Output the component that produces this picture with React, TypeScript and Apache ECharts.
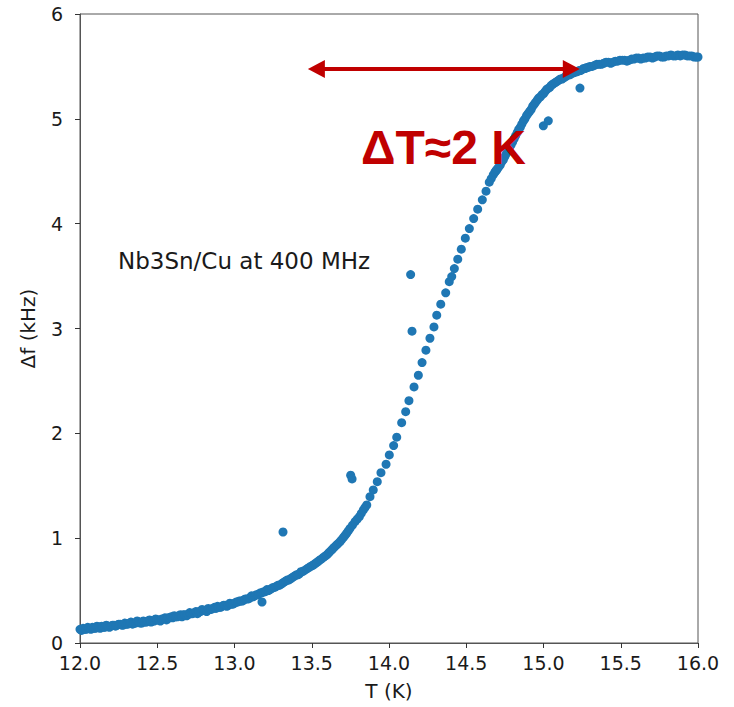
import React, { useEffect, useRef } from "react";
import * as echarts from "echarts";

// Data: [T (K), Δf (kHz)]
const baseRegion: number[][] = [
  [12.0, 0.13], [12.01, 0.12], [12.02, 0.14], [12.03, 0.13], [12.04, 0.13], [12.05, 0.15],
  [12.06, 0.14], [12.07, 0.13], [12.08, 0.15], [12.09, 0.14], [12.1, 0.14], [12.11, 0.16],
  [12.12, 0.15], [12.13, 0.14], [12.14, 0.16], [12.15, 0.15], [12.16, 0.15], [12.17, 0.17],
  [12.18, 0.16], [12.19, 0.15], [12.2, 0.16], [12.21, 0.17], [12.22, 0.17], [12.23, 0.16],
  [12.24, 0.17], [12.25, 0.18], [12.26, 0.18], [12.27, 0.17], [12.28, 0.17], [12.29, 0.19],
  [12.3, 0.18], [12.31, 0.18], [12.32, 0.19], [12.33, 0.2], [12.34, 0.18], [12.35, 0.19],
  [12.36, 0.19], [12.37, 0.21], [12.38, 0.2], [12.39, 0.19], [12.4, 0.19], [12.41, 0.21],
  [12.42, 0.2], [12.43, 0.2], [12.44, 0.21], [12.45, 0.22], [12.46, 0.2], [12.47, 0.21],
  [12.48, 0.21], [12.49, 0.23], [12.5, 0.22], [12.51, 0.22], [12.52, 0.21], [12.53, 0.23],
  [12.54, 0.23], [12.55, 0.24], [12.56, 0.22], [12.57, 0.24], [12.58, 0.24], [12.59, 0.25],
  [12.6, 0.24], [12.61, 0.26], [12.62, 0.25], [12.63, 0.25], [12.64, 0.26], [12.65, 0.27],
  [12.66, 0.25], [12.67, 0.27], [12.68, 0.27], [12.69, 0.26], [12.7, 0.27], [12.71, 0.29],
  [12.72, 0.28], [12.73, 0.28], [12.74, 0.29], [12.75, 0.3], [12.76, 0.28], [12.77, 0.3],
  [12.78, 0.3], [12.79, 0.32], [12.8, 0.31], [12.81, 0.31], [12.82, 0.3], [12.83, 0.33],
  [12.84, 0.32], [12.85, 0.32], [12.86, 0.33], [12.87, 0.34], [12.88, 0.33], [12.89, 0.35],
  [12.9, 0.34], [12.91, 0.34], [12.92, 0.35], [12.93, 0.36], [12.94, 0.36], [12.95, 0.35],
  [12.96, 0.36], [12.97, 0.38], [12.98, 0.37], [12.99, 0.37], [13.0, 0.38], [13.01, 0.39],
  [13.02, 0.39], [13.03, 0.4], [13.04, 0.4], [13.05, 0.4], [13.06, 0.41], [13.07, 0.42],
  [13.08, 0.42], [13.09, 0.42], [13.1, 0.43], [13.11, 0.45], [13.12, 0.44], [13.13, 0.45],
  [13.14, 0.46], [13.15, 0.46], [13.16, 0.47], [13.17, 0.48], [13.18, 0.48], [13.19, 0.49],
  [13.2, 0.49], [13.21, 0.51], [13.22, 0.5], [13.23, 0.51], [13.24, 0.52], [13.25, 0.53],
  [13.26, 0.53], [13.27, 0.54], [13.28, 0.55], [13.29, 0.55], [13.3, 0.56], [13.31, 0.57],
  [13.32, 0.58], [13.33, 0.59], [13.34, 0.6], [13.35, 0.6], [13.36, 0.61], [13.37, 0.62],
  [13.38, 0.63], [13.39, 0.64], [13.4, 0.65], [13.41, 0.65], [13.42, 0.66], [13.43, 0.68],
  [13.44, 0.68], [13.45, 0.69],
];

const transition: number[][] = [
  [13.466, 0.705], [13.478, 0.716], [13.49, 0.728], [13.5, 0.736], [13.51, 0.744],
  [13.521, 0.756], [13.532, 0.768], [13.543, 0.78], [13.553, 0.792], [13.564, 0.803],
  [13.575, 0.816], [13.586, 0.828], [13.597, 0.84], [13.608, 0.856], [13.618, 0.872],
  [13.629, 0.888], [13.639, 0.904], [13.65, 0.92], [13.661, 0.936], [13.672, 0.951],
  [13.683, 0.967], [13.694, 0.987], [13.705, 1.007], [13.716, 1.027], [13.726, 1.047],
  [13.737, 1.07], [13.748, 1.094], [13.764, 1.125], [13.78, 1.157], [13.794, 1.181],
  [13.808, 1.205], [13.821, 1.237], [13.834, 1.269], [13.845, 1.293], [13.856, 1.317],
  [13.877, 1.396], [13.898, 1.46], [13.924, 1.539], [13.948, 1.625], [13.981, 1.705],
  [14.002, 1.794], [14.03, 1.883], [14.05, 1.963], [14.082, 2.102], [14.108, 2.207],
  [14.129, 2.312], [14.162, 2.443], [14.19, 2.554], [14.214, 2.675], [14.239, 2.793],
  [14.265, 2.907], [14.291, 3.015], [14.309, 3.127], [14.335, 3.232], [14.367, 3.34],
  [14.39, 3.447], [14.406, 3.495], [14.423, 3.572], [14.445, 3.661], [14.468, 3.757],
  [14.494, 3.862], [14.52, 3.953], [14.548, 4.049], [14.574, 4.138], [14.604, 4.227],
  [14.628, 4.31], [14.649, 4.396], [14.662, 4.43], [14.675, 4.466],
];

const plateau: number[][] = [
  [14.685, 4.49], [14.69, 4.5], [14.695, 4.51], [14.7, 4.52], [14.71, 4.54], [14.72, 4.56],
  [14.73, 4.59], [14.74, 4.61], [14.75, 4.64], [14.76, 4.67], [14.77, 4.7], [14.78, 4.72],
  [14.79, 4.75], [14.8, 4.78], [14.81, 4.81], [14.82, 4.84], [14.83, 4.87], [14.84, 4.9],
  [14.85, 4.92], [14.86, 4.95], [14.87, 4.98], [14.88, 5.0], [14.89, 5.03], [14.9, 5.05],
  [14.91, 5.07], [14.92, 5.09], [14.93, 5.12], [14.94, 5.14], [14.95, 5.16], [14.96, 5.18],
  [14.97, 5.2], [14.98, 5.21], [14.99, 5.23], [15.0, 5.24], [15.01, 5.26], [15.02, 5.28],
  [15.03, 5.29], [15.04, 5.3], [15.05, 5.32], [15.06, 5.33], [15.07, 5.34], [15.08, 5.35],
  [15.09, 5.36], [15.1, 5.37], [15.11, 5.38], [15.12, 5.38], [15.13, 5.39], [15.14, 5.4],
  [15.15, 5.41], [15.16, 5.42], [15.17, 5.42], [15.18, 5.43], [15.19, 5.44], [15.2, 5.44],
  [15.21, 5.45], [15.22, 5.45], [15.23, 5.46], [15.24, 5.46], [15.25, 5.47], [15.26, 5.48],
  [15.27, 5.48], [15.28, 5.49], [15.29, 5.49], [15.3, 5.5], [15.315, 5.5], [15.33, 5.51],
  [15.345, 5.52], [15.36, 5.52], [15.375, 5.52], [15.39, 5.53], [15.405, 5.54], [15.42, 5.54],
  [15.435, 5.53], [15.45, 5.54], [15.465, 5.55], [15.48, 5.55], [15.495, 5.56], [15.51, 5.56],
  [15.525, 5.56], [15.54, 5.55], [15.555, 5.56], [15.57, 5.57], [15.585, 5.57], [15.6, 5.58],
  [15.615, 5.58], [15.63, 5.57], [15.645, 5.58], [15.66, 5.58], [15.675, 5.59], [15.69, 5.59],
  [15.705, 5.58], [15.72, 5.59], [15.735, 5.6], [15.75, 5.6], [15.765, 5.59], [15.78, 5.59],
  [15.795, 5.6], [15.81, 5.6], [15.825, 5.61], [15.84, 5.6], [15.855, 5.6], [15.87, 5.61],
  [15.885, 5.6], [15.9, 5.61], [15.915, 5.61], [15.93, 5.6], [15.945, 5.6], [15.96, 5.6],
  [15.975, 5.59], [15.99, 5.59], [16.0, 5.59],
];

const outliers: number[][] = [
  [13.178, 0.391], [13.314, 1.059], [13.752, 1.6], [13.761, 1.565], [14.14, 3.514],
  [14.149, 2.974], [14.999, 4.933], [15.031, 4.981], [15.236, 5.293],
];

const xTicks = { min: 12, max: 16, step: 0.5 };
const yTicks = { min: 0, max: 6, step: 1 };

const arrowFrom = [13.53, 5.475];
const arrowTo = [15.18, 5.475];

const sampleLabel = "Nb3Sn/Cu at 400 MHz";
const deltaLabel = "ΔT≈2 K";
const xTitle = "T (K)";
const yTitle = "Δf (kHz)";

export default function App() {
  const ref = useRef<HTMLDivElement>(null);
  useEffect(() => {
    if (!ref.current) return;
    const chart = echarts.init(ref.current, undefined, { renderer: "svg" });
    const font = "DejaVu Sans";
    const allPoints = [...baseRegion, ...transition, ...plateau, ...outliers];
    chart.setOption({
      animation: false,
      backgroundColor: "#ffffff",
      grid: {
        left: 80,
        right: 36,
        top: 14,
        bottom: 64,
        show: true,
        borderColor: "#555555",
        borderWidth: 1,
        backgroundColor: "transparent",
      },
      xAxis: {
        type: "value",
        min: xTicks.min,
        max: xTicks.max,
        interval: xTicks.step,
        name: xTitle,
        nameLocation: "middle",
        nameGap: 38,
        nameTextStyle: { fontFamily: font, fontSize: 20, color: "#1a1a1a" },
        axisLine: { show: true, onZero: false, lineStyle: { color: "#555555", width: 1 } },
        axisTick: { show: true, length: 5, lineStyle: { color: "#333333" } },
        axisLabel: {
          fontFamily: font,
          fontSize: 19,
          color: "#1a1a1a",
          margin: 10,
          formatter: (v: number) => v.toFixed(1),
        },
        splitLine: { show: false },
      },
      yAxis: {
        type: "value",
        min: yTicks.min,
        max: yTicks.max,
        interval: yTicks.step,
        name: yTitle,
        nameLocation: "middle",
        nameGap: 42,
        nameRotate: 90,
        nameTextStyle: { fontFamily: font, fontSize: 20, color: "#1a1a1a" },
        axisLine: { show: true, lineStyle: { color: "#555555", width: 1 } },
        axisTick: { show: true, length: 5, lineStyle: { color: "#333333" } },
        axisLabel: { fontFamily: font, fontSize: 19, color: "#1a1a1a", margin: 17 },
        splitLine: { show: false },
      },
      series: [
        {
          type: "scatter",
          data: allPoints,
          symbol: "circle",
          symbolSize: 9,
          itemStyle: { color: "#1f77b4", opacity: 1 },
          clip: true,
          silent: true,
          z: 2,
        },
        {
          type: "scatter",
          data: [],
          silent: true,
          z: 5,
          markLine: {
            silent: true,
            symbol: ["triangle", "triangle"],
            symbolSize: [18, 17],
            label: { show: false },
            lineStyle: {
              color: "#c00000",
              width: 4,
              type: "solid",
              opacity: 1,
            },
            emphasis: { disabled: true },
            data: [[{ coord: arrowFrom }, { coord: arrowTo }]],
          },
        },
      ],
      graphic: [
        {
          type: "text",
          silent: true,
          style: {
            x: 118,
            y: 261,
            text: sampleLabel,
            font: `23px "${font}"`,
            fill: "#1a1a1a",
            textAlign: "left",
            textVerticalAlign: "middle",
          },
          z: 10,
        },
        {
          type: "text",
          silent: true,
          style: {
            x: 361,
            y: 147,
            text: deltaLabel,
            font: `bold 48px "Liberation Sans", Arial, sans-serif`,
            fill: "#c00000",
            textAlign: "left",
            textVerticalAlign: "middle",
          },
          z: 10,
        },
      ],
    });
    return () => chart.dispose();
  }, []);
  return <div ref={ref} style={{ width: 734, height: 707, position: "absolute", left: 0, top: 0 }} />;
}
